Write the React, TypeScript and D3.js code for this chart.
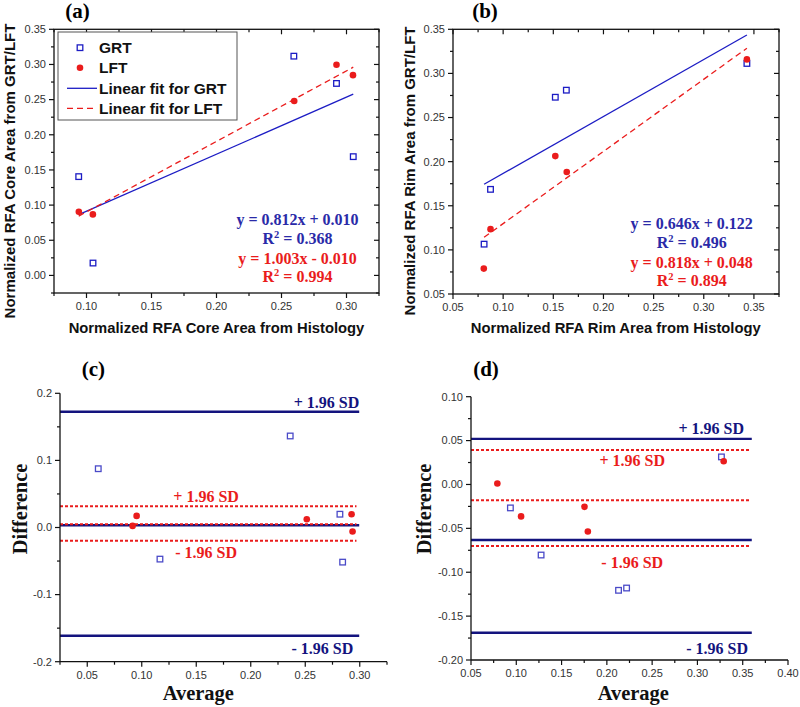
import React from 'react';
import * as d3 from 'd3';

// ---------- data ----------
// (a) core area
const aGrtX = [0.094, 0.105, 0.2595, 0.2923, 0.3052];
const aGrtY = [0.1405, 0.0176, 0.3118, 0.273, 0.1689];
const aLftX = [0.0941, 0.1049, 0.2598, 0.2923, 0.305];
const aLftY = [0.0905, 0.0868, 0.248, 0.2995, 0.2848];
const aFitGrt = [0.812, 0.010];
const aFitLft = [1.003, -0.010];
const aR2 = ['0.368', '0.994'];
const aEq = ['y = 0.812x + 0.010', 'y = 1.003x - 0.010'];
const aXTicks = [0.10, 0.15, 0.20, 0.25, 0.30];
const aYTicks = [0.00, 0.05, 0.10, 0.15, 0.20, 0.25, 0.30, 0.35];

// (b) rim area
const bGrtX = [0.081, 0.0874, 0.152, 0.163, 0.343];
const bGrtY = [0.1065, 0.1686, 0.273, 0.281, 0.3113];
const bLftX = [0.0807, 0.0874, 0.152, 0.1634, 0.343];
const bLftY = [0.0788, 0.1235, 0.2063, 0.1882, 0.3159];
const bFitGrt = [0.646, 0.122];
const bFitLft = [0.818, 0.048];
const bR2 = ['0.496', '0.894'];
const bEq = ['y = 0.646x + 0.122', 'y = 0.818x + 0.048'];
const bXTicks = [0.05, 0.10, 0.15, 0.20, 0.25, 0.30, 0.35];
const bYTicks = [0.05, 0.10, 0.15, 0.20, 0.25, 0.30, 0.35];

// (c) Bland-Altman core
const cGrtX = [0.0601, 0.1167, 0.2362, 0.2818, 0.2843];
const cGrtY = [0.0876, -0.0471, 0.1364, 0.0198, -0.0516];
const cLftX = [0.0916, 0.0953, 0.2514, 0.2925, 0.2934];
const cLftY = [0.0024, 0.0173, 0.0124, 0.0198, -0.006];
const cGrtLimits = [0.1726, 0.0034, -0.1613];
const cLftLimits = [0.0318, 0.0049, -0.0197];
const cXTicks = [0.05, 0.10, 0.15, 0.20, 0.25, 0.30];
const cYTicks = [-0.2, -0.1, 0.0, 0.1, 0.2];

// (d) Bland-Altman rim
const dGrtX = [0.0935, 0.1274, 0.2129, 0.2218, 0.3265];
const dGrtY = [-0.0267, -0.0804, -0.1206, -0.118, 0.0314];
const dLftX = [0.0791, 0.1053, 0.1753, 0.179, 0.329];
const dLftY = [0.0011, -0.0364, -0.0255, -0.0536, 0.0265];
const dGrtLimits = [0.052, -0.0633, -0.169];
const dLftLimits = [0.0394, -0.0179, -0.0702];
const dXTicks = [0.05, 0.10, 0.15, 0.20, 0.25, 0.30, 0.35, 0.40];
const dYTicks = [-0.20, -0.15, -0.10, -0.05, 0.00, 0.05, 0.10];

const legendLabels = ['GRT', 'LFT', 'Linear fit for GRT', 'Linear fit for LFT'];
const sdPlus = '+ 1.96 SD';
const sdMinus = '- 1.96 SD';

// ---------- styles ----------
const SANS = "'Liberation Sans', Arial, sans-serif";
const SERIF = "'Liberation Serif', 'Times New Roman', serif";
const BLUE = '#1c1cc4';
const BLUE_TXT = '#2a2aa8';
const NAVY = '#13137e';
const RED = '#ea1c1c';
const SQ_LIGHT = '#4a4ac8';
const AXIS = '#111';

type Lin = d3.ScaleLinear<number, number>;

function minorBetween(ticks: number[], lo: number, hi: number) {
  const step = ticks[1] - ticks[0];
  const out: number[] = [];
  const start = ticks[0] - step / 2;
  for (let v = start; v <= hi + 1e-9; v += step / 2) {
    if (v >= lo - 1e-9) out.push(+v.toFixed(5));
  }
  return out.filter(v => !ticks.some(t => Math.abs(t - v) < 1e-6));
}

function fmt(d: number, dec: number) {
  return d.toFixed(dec);
}

function Axes({ x, y, xt, yt, xdec, ydec, box }: { x: Lin; y: Lin; xt: number[]; yt: number[]; xdec: number; ydec: number; box: boolean }) {
  const [x0, x1] = x.range();
  const [y0, y1] = y.range();
  const xd = x.domain();
  const yd = y.domain();
  const xm = minorBetween(xt, xd[0], xd[1]);
  const ym = minorBetween(yt, yd[0], yd[1]);
  const els: any[] = [];
  xt.forEach((t, i) => {
    els.push(<line key={'xb' + i} x1={x(t)} x2={x(t)} y1={y0} y2={y0 + 5} stroke={AXIS} strokeWidth={1.2} />);
    els.push(<text key={'xl' + i} x={x(t)} y={y0 + 17} textAnchor="middle" fontFamily={SANS} fontSize={11} fill="#333">{fmt(t, xdec)}</text>);
    if (box) els.push(<line key={'xt' + i} x1={x(t)} x2={x(t)} y1={y1} y2={y1 + 5} stroke={AXIS} strokeWidth={1.2} />);
  });
  xm.forEach((t, i) => {
    els.push(<line key={'xbm' + i} x1={x(t)} x2={x(t)} y1={y0} y2={y0 + 3} stroke={AXIS} strokeWidth={1.2} />);
    if (box) els.push(<line key={'xtm' + i} x1={x(t)} x2={x(t)} y1={y1} y2={y1 + 3} stroke={AXIS} strokeWidth={1.2} />);
  });
  yt.forEach((t, i) => {
    els.push(<line key={'yl' + i} x1={x0} x2={x0 - 5} y1={y(t)} y2={y(t)} stroke={AXIS} strokeWidth={1.2} />);
    els.push(<text key={'ylb' + i} x={x0 - 8} y={y(t)} dy="0.35em" textAnchor="end" fontFamily={SANS} fontSize={11} fill="#333">{fmt(t, ydec)}</text>);
    if (box) els.push(<line key={'yr' + i} x1={x1} x2={x1 - 5} y1={y(t)} y2={y(t)} stroke={AXIS} strokeWidth={1.2} />);
  });
  ym.forEach((t, i) => {
    els.push(<line key={'ylm' + i} x1={x0} x2={x0 - 3} y1={y(t)} y2={y(t)} stroke={AXIS} strokeWidth={1.2} />);
    if (box) els.push(<line key={'yrm' + i} x1={x1} x2={x1 - 3} y1={y(t)} y2={y(t)} stroke={AXIS} strokeWidth={1.2} />);
  });
  return (
    <g>
      {box && <rect x={x0} y={y1} width={x1 - x0} height={y0 - y1} fill="none" stroke={AXIS} strokeWidth={1.3} />}
      {!box && <line x1={x0} x2={x0} y1={y0} y2={y1} stroke={AXIS} strokeWidth={1.3} />}
      {!box && <line x1={x0} x2={x1} y1={y0} y2={y0} stroke={AXIS} strokeWidth={1.3} />}
      {els}
    </g>
  );
}

function Squares({ x, y, xs, ys, color }: { x: Lin; y: Lin; xs: number[]; ys: number[]; color: string }) {
  return (
    <g>
      {xs.map((v, i) => (
        <rect key={i} x={x(v) - 2.8} y={y(ys[i]) - 2.8} width={5.6} height={5.6} fill="white" stroke={color} strokeWidth={1.3} />
      ))}
    </g>
  );
}

function Dots({ x, y, xs, ys }: { x: Lin; y: Lin; xs: number[]; ys: number[] }) {
  return (
    <g>
      {xs.map((v, i) => (
        <circle key={i} cx={x(v)} cy={y(ys[i])} r={3.3} fill={RED} />
      ))}
    </g>
  );
}

function FitLine({ x, y, xs, fit, color, dash }: { x: Lin; y: Lin; xs: number[]; fit: number[]; color: string; dash?: string }) {
  const lo = d3.min(xs) as number;
  const hi = d3.max(xs) as number;
  const line = d3.line<number>().x(v => x(v)).y(v => y(fit[0] * v + fit[1]));
  return <path d={line([lo, hi]) || ''} fill="none" stroke={color} strokeWidth={1.3} strokeDasharray={dash} />;
}

function Equations({ cx, yb, eq, r2 }: { cx: number; yb: number; eq: string[]; r2: string[] }) {
  const common = { textAnchor: 'middle' as const, fontFamily: SERIF, fontWeight: 'bold', fontSize: 16 };
  const r2el = (v: string, yy: number, c: string) => (
    <text x={cx} y={yy} {...common} fill={c}>
      R<tspan dy={-6} fontSize={10.5}>2</tspan><tspan dy={6}>{' = ' + v}</tspan>
    </text>
  );
  return (
    <g>
      <text x={cx} y={yb} {...common} fill={BLUE_TXT}>{eq[0]}</text>
      {r2el(r2[0], yb + 19, BLUE_TXT)}
      <text x={cx} y={yb + 38.5} {...common} fill={RED}>{eq[1]}</text>
      {r2el(r2[1], yb + 57, RED)}
    </g>
  );
}

function Limits({ x, y, lims, xend, color, dotted }: { x: Lin; y: Lin; lims: number[]; xend: number; color: string; dotted: boolean }) {
  const x0 = x.range()[0];
  return (
    <g>
      {lims.map((v, i) => (
        <line key={i} x1={x0} x2={x(xend)} y1={y(v)} y2={y(v)} stroke={color} strokeWidth={dotted ? 2 : 2.4} strokeDasharray={dotted ? '3,2' : undefined} />
      ))}
    </g>
  );
}

const sdText = { fontFamily: SERIF, fontWeight: 'bold', fontSize: 16 } as const;

export default function App() {
  const ax = d3.scaleLinear().domain([0.075, 0.325]).range([54, 379]);
  const ay = d3.scaleLinear().domain([-0.025, 0.35]).range([293, 29.3]);
  const bx = d3.scaleLinear().domain([0.05, 0.375]).range([453, 779]);
  const by = d3.scaleLinear().domain([0.05, 0.35]).range([294, 29.3]);
  const cx = d3.scaleLinear().domain([0.025, 0.325]).range([60, 387]);
  const cy = d3.scaleLinear().domain([-0.2, 0.2]).range([661.7, 393.3]);
  const dx = d3.scaleLinear().domain([0.05, 0.40]).range([471, 788]);
  const dy = d3.scaleLinear().domain([-0.2, 0.1]).range([660, 396.7]);

  const legY = [47.7, 67.7, 88.3, 108.3];

  return (
    <svg width={800} height={707} style={{ position: 'absolute', left: 0, top: 0, background: 'white' }}>
      <rect width={800} height={707} fill="white" />
      {/* ---------- (a) ---------- */}
      <text x={77.5} y={17.5} textAnchor="middle" fontFamily={SERIF} fontWeight="bold" fontSize={21}>(a)</text>
      <Axes x={ax} y={ay} xt={aXTicks} yt={aYTicks} xdec={2} ydec={2} box={true} />
      <FitLine x={ax} y={ay} xs={aGrtX} fit={aFitGrt} color={BLUE} />
      <FitLine x={ax} y={ay} xs={aGrtX} fit={aFitLft} color={RED} dash="6,4" />
      <Squares x={ax} y={ay} xs={aGrtX} ys={aGrtY} color={BLUE} />
      <Dots x={ax} y={ay} xs={aLftX} ys={aLftY} />
      <Equations cx={297.5} yb={225} eq={aEq} r2={aR2} />
      <text transform="translate(15,171) rotate(-90)" textAnchor="middle" fontFamily={SANS} fontWeight="bold" fontSize={15} fill="#111">Normalized RFA Core Area from GRT/LFT</text>
      <text x={216.5} y={333} textAnchor="middle" fontFamily={SANS} fontWeight="bold" fontSize={14.8} fill="#111">Normalized RFA Core Area from Histology</text>
      <g>
        <rect x={58} y={32} width={179} height={88} fill="white" stroke="#555" strokeWidth={1} />
        <rect x={80 - 2.8} y={legY[0] - 2.8} width={5.6} height={5.6} fill="white" stroke={BLUE} strokeWidth={1.3} />
        <circle cx={80} cy={legY[1]} r={3.3} fill={RED} />
        <line x1={67} x2={97} y1={legY[2]} y2={legY[2]} stroke={BLUE} strokeWidth={1.3} />
        <line x1={67} x2={97} y1={legY[3]} y2={legY[3]} stroke={RED} strokeWidth={1.3} strokeDasharray="6,4" />
        {legendLabels.map((l, i) => (
          <text key={i} x={99} y={legY[i] + 5.5} fontFamily={SANS} fontWeight="bold" fontSize={15.5} fill="#111">{l}</text>
        ))}
      </g>

      {/* ---------- (b) ---------- */}
      <text x={485} y={17.5} textAnchor="middle" fontFamily={SERIF} fontWeight="bold" fontSize={21}>(b)</text>
      <Axes x={bx} y={by} xt={bXTicks} yt={bYTicks} xdec={2} ydec={2} box={true} />
      <FitLine x={bx} y={by} xs={bGrtX} fit={bFitGrt} color={BLUE} />
      <FitLine x={bx} y={by} xs={bGrtX} fit={bFitLft} color={RED} dash="6,4" />
      <Squares x={bx} y={by} xs={bGrtX} ys={bGrtY} color={BLUE} />
      <Dots x={bx} y={by} xs={bLftX} ys={bLftY} />
      <Equations cx={691.7} yb={229} eq={bEq} r2={bR2} />
      <text transform="translate(415,171) rotate(-90)" textAnchor="middle" fontFamily={SANS} fontWeight="bold" fontSize={15} fill="#111">Normalized RFA Rim Area from GRT/LFT</text>
      <text x={615.8} y={333} textAnchor="middle" fontFamily={SANS} fontWeight="bold" fontSize={14.8} fill="#111">Normalized RFA Rim Area from Histology</text>

      {/* ---------- (c) ---------- */}
      <text x={93.3} y={376} textAnchor="middle" fontFamily={SERIF} fontWeight="bold" fontSize={21}>(c)</text>
      <Limits x={cx} y={cy} lims={cGrtLimits} xend={0.2995} color={NAVY} dotted={false} />
      <Limits x={cx} y={cy} lims={cLftLimits} xend={0.297} color={RED} dotted={true} />
      <Axes x={cx} y={cy} xt={cXTicks} yt={cYTicks} xdec={2} ydec={1} box={false} />
      <Squares x={cx} y={cy} xs={cGrtX} ys={cGrtY} color={SQ_LIGHT} />
      <Dots x={cx} y={cy} xs={cLftX} ys={cLftY} />
      <text x={cx(0.2995)} y={cy(cGrtLimits[0]) - 4} textAnchor="end" {...sdText} fill={NAVY}>{sdPlus}</text>
      <text x={cx(0.2995) - 6} y={cy(cGrtLimits[2]) + 18} textAnchor="end" {...sdText} fill={NAVY}>{sdMinus}</text>
      <text x={cx(0.159)} y={cy(cLftLimits[0]) - 4} textAnchor="middle" {...sdText} fill={RED}>{sdPlus}</text>
      <text x={cx(0.159)} y={cy(cLftLimits[2]) + 17} textAnchor="middle" {...sdText} fill={RED}>{sdMinus}</text>
      <text x={198.3} y={699.5} textAnchor="middle" fontFamily={SERIF} fontWeight="bold" fontSize={20.5} fill="#111">Average</text>
      <text transform="translate(26.5,509) rotate(-90)" textAnchor="middle" fontFamily={SERIF} fontWeight="bold" fontSize={20.5} fill="#111">Difference</text>

      {/* ---------- (d) ---------- */}
      <text x={486} y={376} textAnchor="middle" fontFamily={SERIF} fontWeight="bold" fontSize={21}>(d)</text>
      <Limits x={dx} y={dy} lims={dGrtLimits} xend={0.36} color={NAVY} dotted={false} />
      <Limits x={dx} y={dy} lims={dLftLimits} xend={0.359} color={RED} dotted={true} />
      <Axes x={dx} y={dy} xt={dXTicks} yt={dYTicks} xdec={2} ydec={2} box={false} />
      <Squares x={dx} y={dy} xs={dGrtX} ys={dGrtY} color={SQ_LIGHT} />
      <Dots x={dx} y={dy} xs={dLftX} ys={dLftY} />
      <text x={744} y={dy(dGrtLimits[0]) - 5} textAnchor="end" {...sdText} fill={NAVY}>{sdPlus}</text>
      <text x={748} y={dy(dGrtLimits[2]) + 21} textAnchor="end" {...sdText} fill={NAVY}>{sdMinus}</text>
      <text x={632.2} y={dy(dLftLimits[0]) + 16} textAnchor="middle" {...sdText} fill={RED}>{sdPlus}</text>
      <text x={632.2} y={dy(dLftLimits[2]) + 21.6} textAnchor="middle" {...sdText} fill={RED}>{sdMinus}</text>
      <text x={633.3} y={699.5} textAnchor="middle" fontFamily={SERIF} fontWeight="bold" fontSize={20.5} fill="#111">Average</text>
      <text transform="translate(431,509) rotate(-90)" textAnchor="middle" fontFamily={SERIF} fontWeight="bold" fontSize={20.5} fill="#111">Difference</text>
    </svg>
  );
}
